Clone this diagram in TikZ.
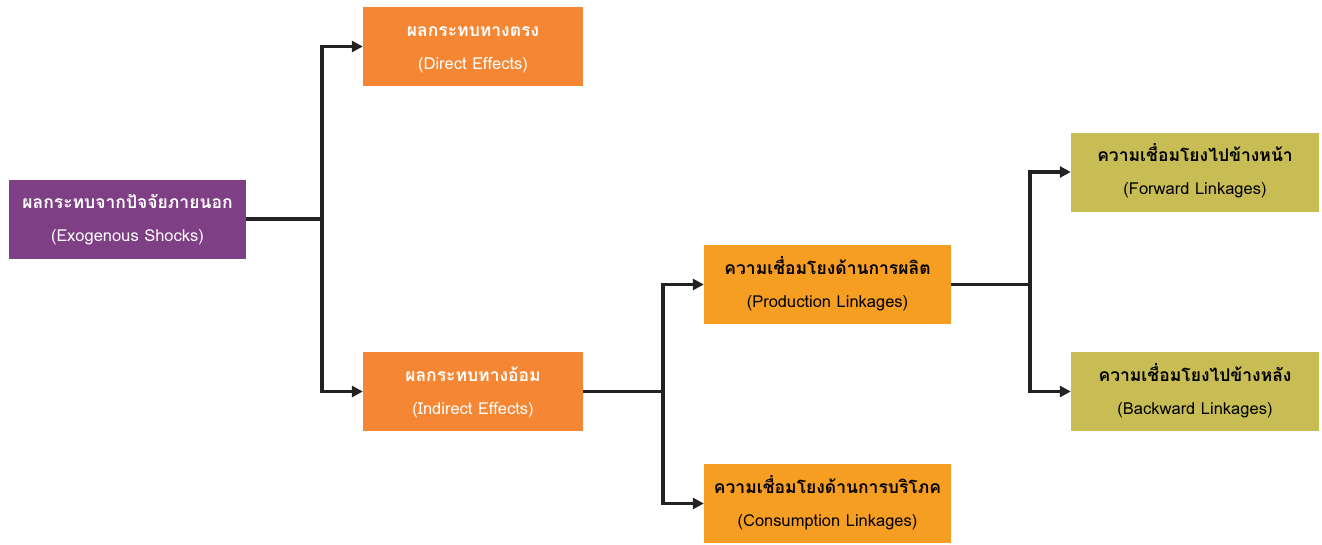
\documentclass[tikz,border=0pt]{standalone}
\usepackage{fontspec}
\setmainfont[Script=Thai]{Loma}
\usetikzlibrary{arrows.meta}
\definecolor{purp}{HTML}{7E3F85}
\definecolor{orgA}{HTML}{F58634}
\definecolor{orgB}{HTML}{F59E22}
\definecolor{olive}{HTML}{C8BC55}
\definecolor{line}{HTML}{222222}
\tikzset{
  box/.style={minimum height=79pt, inner sep=0pt, align=center, font=\fontsize{16.5pt}{31pt}\selectfont},
  wbox/.style={box, text=white},
  kbox/.style={box, text=black},
  conn/.style={draw=line, line width=3.5pt},
  arr/.style={conn, -{Triangle[length=11pt,width=11pt]}}
}
\newcommand{\tl}[2]{\raisebox{-2pt}{\begin{tabular}{@{}c@{}}{\bfseries\fontsize{17.5pt}{31pt}\selectfont #1}\\[2pt]#2\end{tabular}}}
\begin{document}
\begin{tikzpicture}[x=1pt,y=-1pt]
\useasboundingbox (0,0) rectangle (1322,544);
\node[wbox, fill=purp, minimum width=237pt] (exo) at (127.5,219) {\tl{ผลกระทบจากปัจจัยภายนอก}{(Exogenous Shocks)}};
\node[wbox, fill=orgA, minimum width=220pt] (dir) at (473,46.5) {\tl{ผลกระทบทางตรง}{(Direct Effects)}};
\node[wbox, fill=orgA, minimum width=220pt] (ind) at (473,391.5) {\tl{ผลกระทบทางอ้อม}{(Indirect Effects)}};
\node[kbox, fill=orgB, minimum width=247pt] (prod) at (827.5,284.5) {\tl{ความเชื่อมโยงด้านการผลิต}{(Production Linkages)}};
\node[kbox, fill=orgB, minimum width=247pt] (cons) at (827.5,503.5) {\tl{ความเชื่อมโยงด้านการบริโภค}{(Consumption Linkages)}};
\node[kbox, fill=olive, minimum width=248pt] (fwd) at (1195,172) {\tl{ความเชื่อมโยงไปข้างหน้า}{(Forward Linkages)}};
\node[kbox, fill=olive, minimum width=248pt] (bwd) at (1195,391.5) {\tl{ความเชื่อมโยงไปข้างหลัง}{(Backward Linkages)}};
\coordinate (j1) at (322,219);
\coordinate (j2) at (663,391.5);
\coordinate (j3) at (1030,284.5);
\draw[conn] (exo.east) -- (j1);
\draw[arr] (j1) |- (dir.west);
\draw[arr] (j1) |- (ind.west);
\draw[conn] (ind.east) -- (j2);
\draw[arr] (j2) |- (prod.west);
\draw[arr] (j2) |- (cons.west);
\draw[conn] (prod.east) -- (j3);
\draw[arr] (j3) |- (fwd.west);
\draw[arr] (j3) |- (bwd.west);
\end{tikzpicture}
\end{document}
